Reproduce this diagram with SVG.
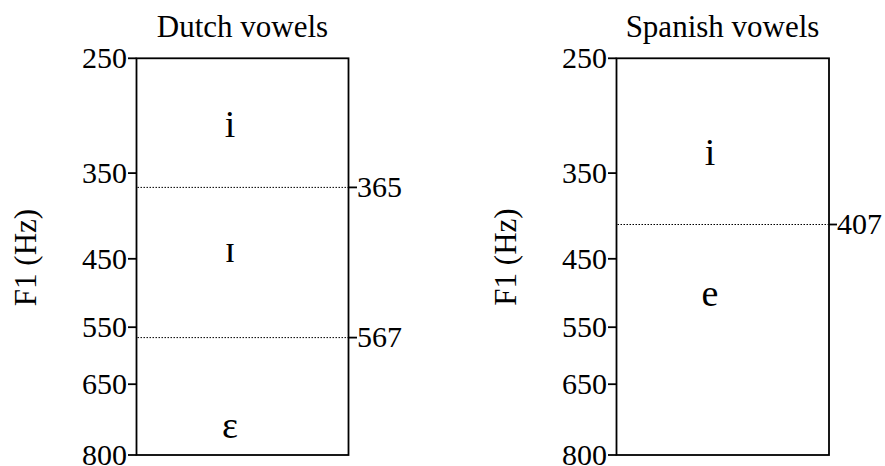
<svg xmlns="http://www.w3.org/2000/svg" width="885" height="466" viewBox="0 0 885 466" font-family="'Liberation Serif', 'DejaVu Serif', 'Times New Roman', serif">
<style>
text { font-family: 'Liberation Serif', 'DejaVu Serif', 'Times New Roman', serif; fill: #000; }
.title { font-size: 31px; text-anchor: middle; }
.num { font-size: 30px; }
.l { text-anchor: end; }
.r { text-anchor: start; }
.ax { font-size: 31px; text-anchor: middle; }
.v { font-size: 38px; text-anchor: middle; }
.box { fill: #fff; stroke: #000; stroke-width: 1.8; }
.tick { stroke: #000; stroke-width: 1.8; }
.dot { stroke: #000; stroke-width: 1; stroke-dasharray: 1.5 1.5; }
</style>
<rect width="885" height="466" fill="#fff"/>

<g id="dutch">
  <text class="title" x="242.5" y="37">Dutch vowels</text>
  <text class="ax" x="36" y="257.5" transform="rotate(-90 36 257.5)">F1 (Hz)</text>
  <rect class="box" x="136.5" y="58.3" width="212" height="396.7"/>
  <g id="dutch-ticks">
    <line class="tick" x1="128" y1="58.3" x2="136.5" y2="58.3"/>
    <line class="tick" x1="128" y1="173.1" x2="136.5" y2="173.1"/>
    <line class="tick" x1="128" y1="258.8" x2="136.5" y2="258.8"/>
    <line class="tick" x1="128" y1="327.2" x2="136.5" y2="327.2"/>
    <line class="tick" x1="128" y1="384.2" x2="136.5" y2="384.2"/>
    <line class="tick" x1="128" y1="455" x2="136.5" y2="455"/>
    <line class="tick" x1="348.5" y1="187.4" x2="357" y2="187.4"/>
    <line class="tick" x1="348.5" y1="337.6" x2="357" y2="337.6"/>
  </g>
  <text class="num l" x="127" y="68.3">250</text>
  <text class="num l" x="127" y="183.1">350</text>
  <text class="num l" x="127" y="268.8">450</text>
  <text class="num l" x="127" y="337.2">550</text>
  <text class="num l" x="127" y="394.2">650</text>
  <text class="num l" x="127" y="465">800</text>
  <text class="num r" x="357" y="197">365</text>
  <text class="num r" x="357" y="347.4">567</text>
  <g id="dutch-boundaries">
    <line class="dot" x1="137.5" y1="187.4" x2="348" y2="187.4"/>
    <line class="dot" x1="137.5" y1="337.6" x2="348" y2="337.6"/>
  </g>
  <g id="dutch-i"><text class="v" x="230" y="137.3">i</text></g>
  <g id="dutch-I"><text class="v" x="230" y="261.5">ɪ</text></g>
  <g id="dutch-E"><text class="v" x="230" y="437.5">ɛ</text></g>
</g>

<g id="spanish">
  <text class="title" x="722.5" y="37">Spanish vowels</text>
  <text class="ax" x="515.5" y="257" transform="rotate(-90 515.5 257)">F1 (Hz)</text>
  <rect class="box" x="616.5" y="58.3" width="212.5" height="396.7"/>
  <g id="spanish-ticks">
    <line class="tick" x1="608" y1="58.3" x2="616.5" y2="58.3"/>
    <line class="tick" x1="608" y1="173.1" x2="616.5" y2="173.1"/>
    <line class="tick" x1="608" y1="258.8" x2="616.5" y2="258.8"/>
    <line class="tick" x1="608" y1="327.2" x2="616.5" y2="327.2"/>
    <line class="tick" x1="608" y1="384.2" x2="616.5" y2="384.2"/>
    <line class="tick" x1="608" y1="455" x2="616.5" y2="455"/>
    <line class="tick" x1="829" y1="224.5" x2="837" y2="224.5"/>
  </g>
  <text class="num l" x="607" y="68.3">250</text>
  <text class="num l" x="607" y="183.1">350</text>
  <text class="num l" x="607" y="268.8">450</text>
  <text class="num l" x="607" y="337.2">550</text>
  <text class="num l" x="607" y="394.2">650</text>
  <text class="num l" x="607" y="465">800</text>
  <text class="num r" x="837" y="234.3">407</text>
  <g id="spanish-boundaries">
    <line class="dot" x1="617.5" y1="224.5" x2="828.5" y2="224.5"/>
  </g>
  <g id="spanish-i"><text class="v" x="710" y="165">i</text></g>
  <g id="spanish-e"><text class="v" x="710" y="305.5">e</text></g>
</g>
</svg>
